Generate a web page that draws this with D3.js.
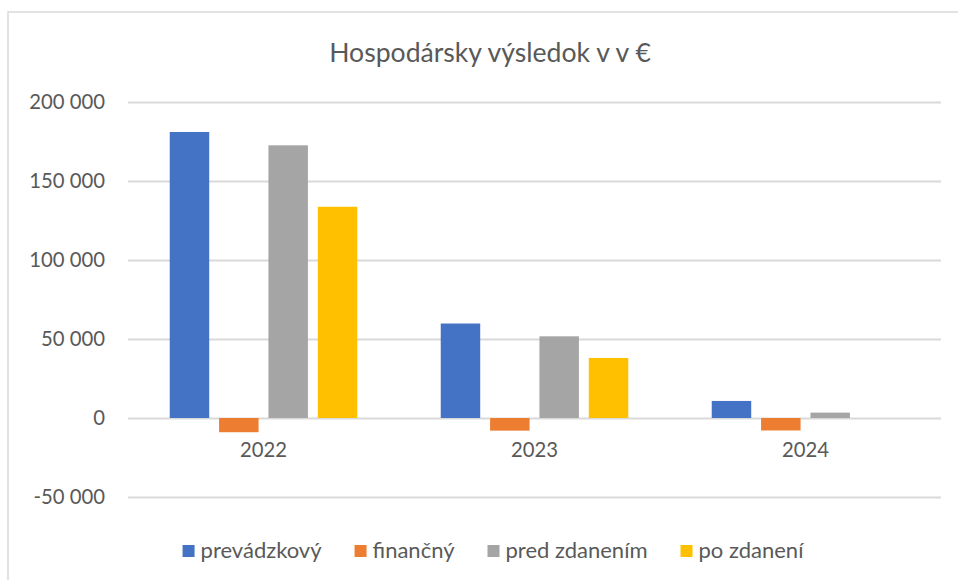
<!DOCTYPE html>
<html>
<head>
<meta charset="utf-8">
<script src="https://cdn.jsdelivr.net/npm/d3@7"></script>
<style>
  body { margin: 0; background: #fff; }
  text { font-family: Lato, 'Open Sans', sans-serif; fill: #595959; }
</style>
</head>
<body>
<div id="graphContainer"></div>
<script>
// data
const years = ['2022', '2023', '2024']
const seriesNames = ['prevádzkový', 'finančný', 'pred zdanením', 'po zdanení']
const prevadzkovy = [181000, 59800, 10800]
const financny = [-9000, -8000, -7900]
const predZdanenim = [172600, 51700, 3400]
const poZdaneni = [133700, 38000, 0]
const yTicks = [-50000, 0, 50000, 100000, 150000, 200000]
const colors = ['#4472C4', '#ED7D31', '#A5A5A5', '#FFC000']
const title = 'Hospodársky výsledok v v €'

const allSeries = [prevadzkovy, financny, predZdanenim, poZdaneni]

let svgWidth = 958,
  svgHeight = 580
let plot = { left: 128, right: 941, top: 102, bottom: 497 }

let svg = d3
  .select('#graphContainer')
  .append('svg')
  .attr('width', svgWidth)
  .attr('height', svgHeight)

// chart border
svg
  .append('rect')
  .attr('x', 8)
  .attr('y', 12)
  .attr('width', 1000)
  .attr('height', 700)
  .attr('fill', '#fff')
  .attr('stroke', '#d9d9d9')
  .attr('stroke-width', 1.5)

// title
svg
  .append('text')
  .attr('x', 490)
  .attr('y', 62)
  .attr('text-anchor', 'middle')
  .style('font-size', '26.6px')
  .text(title)

// scales
let y = d3.scaleLinear().domain([-50000, 200000]).range([plot.bottom, plot.top])
let x0 = d3
  .scaleBand()
  .domain(years)
  .range([plot.left, plot.right])
  .paddingInner(0.308)
  .paddingOuter(0.154)
let x1 = d3
  .scaleBand()
  .domain(seriesNames)
  .range([0, x0.bandwidth()])
  .paddingInner(0.2)
  .paddingOuter(0)

let locale = d3.formatLocale({ decimal: ',', thousands: ' ', grouping: [3], currency: ['', ''], minus: '-' })
let fmt = locale.format(',')

// gridlines + y labels
let yAxis = d3
  .axisLeft(y)
  .tickValues(yTicks)
  .tickSize(-(plot.right - plot.left))
  .tickPadding(23)
  .tickFormat(fmt)

let gy = svg
  .append('g')
  .attr('class', 'y-axis')
  .attr('transform', 'translate(' + plot.left + ',0)')
  .call(yAxis)
gy.select('.domain').remove()
gy.selectAll('line').attr('stroke', '#d9d9d9').attr('stroke-width', 1.8)
gy.selectAll('text').style('font-size', '20.3px').attr('fill', '#595959')

// bars
let rows = []
years.forEach((yr, i) => {
  seriesNames.forEach((s, j) => {
    rows.push({ year: yr, series: s, value: allSeries[j][i], color: colors[j] })
  })
})

svg
  .append('g')
  .selectAll('rect')
  .data(rows)
  .enter()
  .append('rect')
  .attr('x', (d) => x0(d.year) + x1(d.series))
  .attr('width', x1.bandwidth())
  .attr('y', (d) => y(Math.max(0, d.value)))
  .attr('height', (d) => Math.abs(y(d.value) - y(0)))
  .attr('fill', (d) => d.color)

// x labels
let xAxis = d3.axisBottom(x0).tickSize(0).tickPadding(0)
let gx = svg
  .append('g')
  .attr('class', 'x-axis')
  .attr('transform', 'translate(0,' + y(0) + ')')
  .call(xAxis)
gx.select('.domain').remove()
gx.selectAll('text')
  .attr('dy', null)
  .attr('y', 39)
  .style('font-size', '20.3px')
  .attr('fill', '#595959')

// legend
let legend = svg.append('g').attr('class', 'legend')
let items = legend
  .selectAll('g')
  .data(seriesNames)
  .enter()
  .append('g')
items
  .append('rect')
  .attr('width', 12)
  .attr('height', 12)
  .attr('y', 545)
  .attr('fill', (d, i) => colors[i])
items
  .append('text')
  .attr('x', 18)
  .attr('y', 558)
  .style('font-size', '22px')
  .text((d) => d)

let pos = 0
let offsets = []
items.each(function () {
  offsets.push(pos)
  let w = d3.select(this).select('text').node().getComputedTextLength()
  pos += 18 + w + 33
})
let total = pos - 33
let start = 493 - total / 2
items.attr('transform', (d, i) => 'translate(' + (start + offsets[i]) + ',0)')
</script>
</body>
</html>
